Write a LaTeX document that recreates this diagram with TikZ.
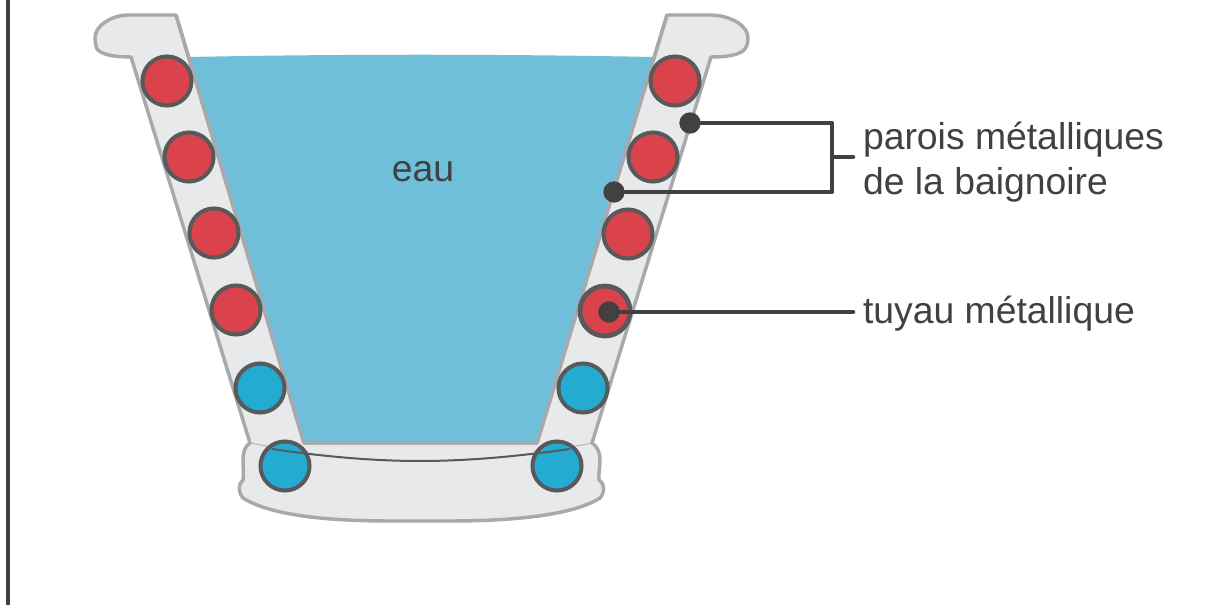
\documentclass[tikz,border=0pt]{standalone}
\usepackage{fontspec}
\usetikzlibrary{calc}
\setmainfont{Liberation Sans}
\definecolor{water}{HTML}{6FBFDB}
\definecolor{wall}{HTML}{E8E9EB}
\definecolor{edge}{HTML}{A7A9AC}
\definecolor{hot}{HTML}{DA434B}
\definecolor{cold}{HTML}{24ACD0}
\definecolor{ring}{HTML}{58595B}
\definecolor{ink}{HTML}{414042}
\tikzset{
  pipe/.style={circle,draw=ring,line width=3pt,minimum size=36.8pt,inner sep=0pt,outer sep=0pt},
  hotpipe/.style={pipe,fill=hot},
  coldpipe/.style={pipe,fill=cold},
  dot/.style={circle,fill=ink,minimum size=16pt,inner sep=0pt,outer sep=0pt},
  leader/.style={draw=ink,line width=3.4pt,line cap=round,line join=round},
  label/.style={text=ink,font=\fontsize{28}{33.5}\selectfont,align=left,inner sep=0pt,outer sep=0pt},
  hull/.style={draw=edge,line width=2.6pt,line join=round}
}
\begin{document}
\begin{tikzpicture}[x=0.75pt,y=-0.75pt]
\useasboundingbox (0,0) rectangle (1206,605);
\fill[white] (0,0) rectangle (1206,605);
\draw[ink,line width=2.5pt] (8,0) -- (8,605);
% hull
\draw[hull,fill=wall] (176,15) -- (127,15)
  .. controls (110,16) and (95,26) .. (95,38)
  .. controls (95,42) and (96,46) .. (97,49)
  .. controls (102,55) and (115,57) .. (131,57)
  -- (250,443)
  .. controls (245,446) and (243,452) .. (243,460)
  .. controls (243,468) and (244,476) .. (243,480)
  .. controls (238,484) and (238,492) .. (243,498)
  .. controls (268,514) and (320,521) .. (390,521)
  -- (450,521)
  .. controls (520,521) and (575,514) .. (600,498)
  .. controls (605,492) and (605,484) .. (599,480)
  .. controls (598,476) and (600,468) .. (600,460)
  .. controls (600,452) and (597,446) .. (592,443)
  -- (711,57)
  .. controls (727,57) and (740,55) .. (745,49)
  .. controls (747,46) and (748,42) .. (748,38)
  .. controls (748,26) and (732,16) .. (712,15)
  -- (667,15) -- (537,443) -- (304,443) -- cycle;
% water
\fill[water] (189,57) .. controls (340,54) and (500,54) .. (653,57)
  -- (537,442) -- (304,442) -- cycle;
\draw[edge,line width=2.6pt,line join=round] (176,15) -- (304,443) -- (537,443) -- (667,15);
% seam
\draw[edge,line width=0.6pt] (250,443) -- (272,447);
\draw[edge,line width=0.6pt] (570,447) -- (592,443);
% pipes
\node[hotpipe] (l1) at (167,81) {};
\node[hotpipe] (l2) at (189,157) {};
\node[hotpipe] (l3) at (214,233) {};
\node[hotpipe] (l4) at (236,310) {};
\node[coldpipe] (l5) at (260,388) {};
\node[coldpipe] (l6) at (285,466) {};
\node[hotpipe] (r1) at (675,81) {};
\node[hotpipe] (r2) at (653,157) {};
\node[hotpipe] (r3) at (628,234) {};
\node[hotpipe,line width=3.6pt,minimum size=37.5pt] (r4) at (605,311) {};
\node[coldpipe] (r5) at (583,388) {};
\node[coldpipe] (r6) at (557,466) {};
\draw[ring,line width=1.5pt] ($(l6.center)+(-13,-17)$) .. controls (320,456) and (370,461) .. (420,461)
  .. controls (470,461) and (520,456) .. ($(r6.center)+(13,-17)$);
% labels
\node[label,anchor=center] (eau) at (423,172) {eau};
\node[label,anchor=west] (walls) at (863,162) {parois métalliques\\de la baignoire};
\node[label,anchor=west] (tube) at (863,314) {tuyau métallique};
% leaders
\node[dot] (d1) at (690,123) {};
\node[dot] (d2) at (614,192) {};
\node[dot] (d3) at (609,312) {};
\coordinate (bt) at (832,123);
\coordinate (bb) at (832,192);
\coordinate (bs) at (853,157);
\draw[leader] (d1.center) -- (bt) -- (bb) -- (d2.center);
\draw[leader] (bs) -- (bs -| bt);
\draw[leader] (d3.center) -- (853,312);
\end{tikzpicture}
\end{document}
